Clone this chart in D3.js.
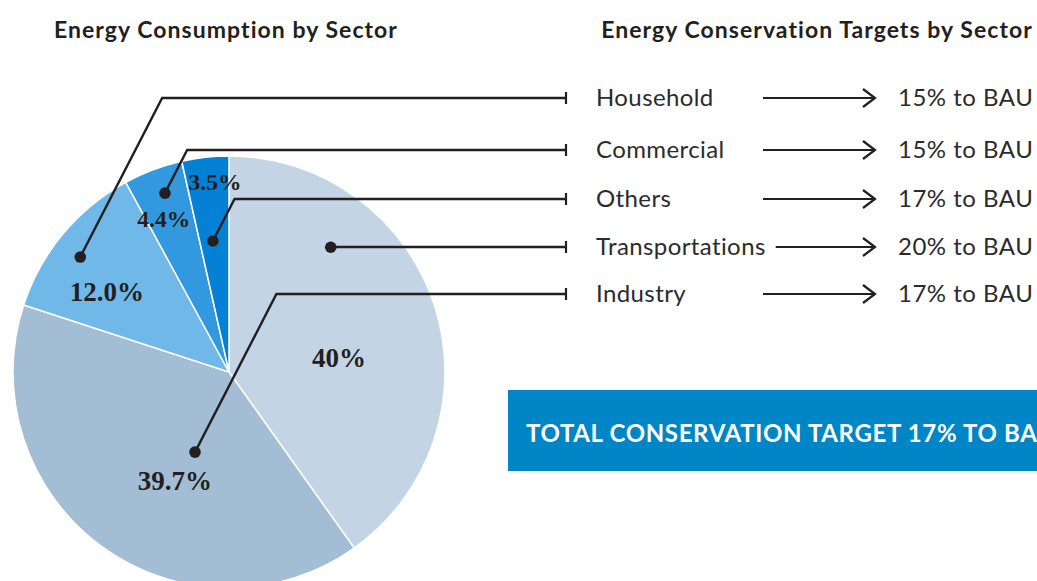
<!DOCTYPE html>
<html><head><meta charset="utf-8">
<script src="https://cdn.jsdelivr.net/npm/d3@7"></script>
<style>html,body{margin:0;padding:0;background:#fff;overflow:hidden} svg{display:block}</style>
</head><body>
<svg id="chart" width="1037" height="581"></svg>
<script>
// Energy consumption shares, in pie order (clockwise from 12 o'clock)
const sectors = ["Transportations", "Industry", "Household", "Commercial", "Others"];
const shares = [40, 39.7, 12.0, 4.4, 3.5];
const shareLabels = ["40%", "39.7%", "12.0%", "4.4%", "3.5%"];

// Conservation targets (% to BAU), in list order
const targetSectors = ["Household", "Commercial", "Others", "Transportations", "Industry"];
const targetValues = [15, 15, 17, 20, 17];

const boxText = "TOTAL CONSERVATION TARGET 17% TO BAU";

// Styling
const sliceColors = ["#c3d5e4", "#a3bdd5", "#70b8e8", "#3399de", "#0481d4"];
const ink = "#231f20";
const sans = "Lato, 'Open Sans', sans-serif";
const serif = "'Liberation Serif', 'Times New Roman', serif";

// Placement of value labels and leader dots inside slices: [angle deg clockwise from top, radius, font size]
const labelPlace = {
  Transportations: [82.7, 111, 27], Industry: [206.6, 121, 27], Household: [303.3, 146, 27],
  Commercial: [337, 167, 23.5], Others: [355.8, 191, 23.5]
};
const dotPlace = {
  Transportations: [39.2, 161], Industry: [203, 87], Household: [307.7, 188],
  Commercial: [340.3, 190], Others: [353, 132]
};
const rowPositions = [98, 150, 199, 247, 294];

const svg = d3.select("#chart");
const cx = 229, cy = 372, R = 216;

// Titles
const title = (x, t) => svg.append("text").attr("x", x).attr("y", 38).attr("text-anchor", "middle")
  .attr("font-family", sans).attr("font-weight", 700).attr("font-size", 23)
  .attr("letter-spacing", 1.05).attr("fill", ink).text(t);
title(226, "Energy Consumption by Sector");
title(817, "Energy Conservation Targets by Sector");

// Pie
const data = sectors.map((s, i) => ({ sector: s, value: shares[i], label: shareLabels[i], color: sliceColors[i] }));
const pie = d3.pie().sort(null).value(d => d.value);
const arc = d3.arc().innerRadius(0).outerRadius(R);
const g = svg.append("g").attr("transform", `translate(${cx},${cy})`);
const arcs = pie(data);
g.selectAll("path.slice").data(arcs).join("path")
  .attr("class", "slice")
  .attr("d", arc)
  .attr("fill", d => d.data.color)
  .attr("stroke", "#fff").attr("stroke-width", 1.5);

// Value labels
const rad = deg => deg * Math.PI / 180;
g.selectAll("text.val").data(arcs).join("text")
  .attr("class", "val")
  .each(function (d) {
    const p = labelPlace[d.data.sector];
    const [x, y] = d3.pointRadial(rad(p[0]), p[1]);
    d3.select(this).attr("x", x).attr("y", y).attr("font-size", p[2]);
  })
  .attr("text-anchor", "middle").attr("dy", "0.35em")
  .attr("font-family", serif).attr("font-weight", 700).attr("fill", ink)
  .text(d => d.data.label);

// Rows of the target list
const rowY = d3.scaleOrdinal().domain(targetSectors).range(rowPositions);
const tickX = 566, nameX = 596, arrowEnd = 875, targetX = 898;

// Leader lines from each slice to its row
const slope = 0.515;
const leaders = svg.append("g");
targetSectors.forEach(s => {
  const dp = dotPlace[s];
  const [dx, dy] = d3.pointRadial(rad(dp[0]), dp[1]);
  const x0 = cx + dx, y0 = cy + dy, y1 = rowY(s);
  const xc = x0 + (y0 - y1) * slope;
  leaders.append("path")
    .attr("d", d3.line()([[x0, y0], [xc, y1], [tickX, y1]]))
    .attr("fill", "none").attr("stroke", ink).attr("stroke-width", 2.4).attr("stroke-linejoin", "miter");
  leaders.append("line").attr("x1", tickX).attr("x2", tickX).attr("y1", y1 - 6).attr("y2", y1 + 6)
    .attr("stroke", ink).attr("stroke-width", 2.2);
  leaders.append("circle").attr("cx", x0).attr("cy", y0).attr("r", 5.8).attr("fill", ink);
});

// Sector names, arrows and targets
targetSectors.forEach((s, i) => {
  const y = rowY(s);
  const name = svg.append("text").attr("x", nameX).attr("y", y).attr("dy", "0.35em")
    .attr("font-family", sans).attr("font-size", 24).attr("letter-spacing", 0.4)
    .attr("fill", "#2b2b2b").text(s);
  const textEnd = nameX + name.node().getComputedTextLength();
  const x0 = Math.max(763, textEnd + 10);
  svg.append("line").attr("x1", x0).attr("x2", arrowEnd).attr("y1", y).attr("y2", y)
    .attr("stroke", ink).attr("stroke-width", 2);
  svg.append("path")
    .attr("d", d3.line()([[arrowEnd - 12, y - 9], [arrowEnd, y], [arrowEnd - 12, y + 9]]))
    .attr("fill", "none").attr("stroke", ink).attr("stroke-width", 2.2);
  svg.append("text").attr("x", targetX).attr("y", y).attr("dy", "0.35em")
    .attr("font-family", sans).attr("font-size", 24).attr("letter-spacing", 0.5)
    .attr("fill", "#2b2b2b").text(`${targetValues[i]}% to BAU`);
});

// Total target banner
svg.append("rect").attr("x", 508).attr("y", 390).attr("width", 1037 - 508).attr("height", 81).attr("fill", "#0086c6");
svg.append("text").attr("x", 526).attr("y", 442)
  .attr("font-family", sans).attr("font-weight", 700).attr("font-size", 24)
  .attr("letter-spacing", 0.65).attr("fill", "#fff")
  .text(boxText);
</script>
</body></html>
